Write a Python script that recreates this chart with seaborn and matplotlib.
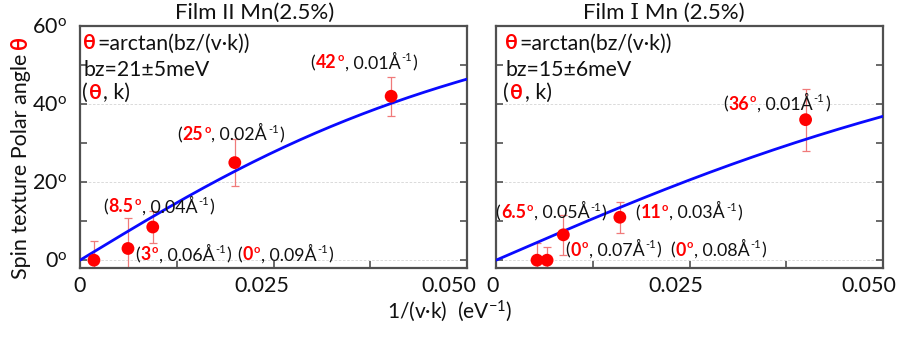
import numpy as np
import pandas as pd
import matplotlib
matplotlib.use("Agg")
import matplotlib.pyplot as plt
import matplotlib.transforms as mtransforms
from matplotlib.ticker import FixedLocator
import seaborn as sns

# ---------------- data ----------------
panel_titles = ["Film II Mn(2.5%)", "Film \u2160 Mn (2.5%)"]
bz_values = [21, 15]   # meV
bz_errors = [5, 6]

# Film II
film2_inv_vk = [0.0018, 0.0062, 0.0094, 0.0200, 0.0402]   # 1/(v·k), eV^-1
film2_theta = [0, 3, 8.5, 25, 42]                          # degrees
film2_theta_err = [5.0, 7.8, 4.0, 6.0, 5.0]
film2_k = ["0.09", "0.06", "0.04", "0.02", "0.01"]         # Å^-1

# Film I
film1_inv_vk = [0.0053, 0.0066, 0.0087, 0.0160, 0.0400]
film1_theta = [0, 0, 6.5, 11, 36]
film1_theta_err = [4.3, 3.3, 5.1, 4.0, 7.9]
film1_k = ["0.08", "0.07", "0.05", "0.03", "0.01"]

x_ticks = [0, 0.025, 0.050]
x_tick_labels = ["0", "0.025", "0.050"]
y_ticks = [0, 20, 40, 60]
y_minor_ticks = [10, 30, 50]

# where each (θ, k) annotation sits (data coords, text baseline)
film2_label_pos = [(0.0203, 0.0), (0.00712, 0.0), (0.00298, 12.3),
                   (0.01256, 30.8), (0.0298, 49.2)]
film1_label_pos = [(0.02248, 1.1), (0.00891, 1.1), (-0.0001, 10.8),
                   (0.01796, 10.8), (0.0293, 38.5)]

# ---------------- style ----------------
sns.set_theme(style="white")
plt.rcParams["font.family"] = ["Lato", "Open Sans", "DejaVu Sans"]
plt.rcParams["mathtext.fontset"] = "custom"
plt.rcParams["mathtext.rm"] = "Lato"
plt.rcParams["mathtext.it"] = "Lato:italic"
plt.rcParams["mathtext.bf"] = "Lato:bold"

RED = "#ff0000"
BLACK = "#111111"
SPINE = "#505050"

fig = plt.figure(figsize=(9, 3.37), dpi=100)
ax_left = fig.add_axes([80 / 900, 69 / 337, 387 / 900, 242 / 337])
ax_right = fig.add_axes([496 / 900, 69 / 337, 387 / 900, 242 / 337])


def rich_text(x, y, parts, size, transform, vertical=False, gap=1.3):
    """Draw a run of differently styled pieces one after another."""
    renderer = fig.canvas.get_renderer()
    pos = 0.0
    for text, color, weight, sup in parts:
        fs = size * 0.62 if sup else size
        lift = size * 0.42 * fig.dpi / 72 if sup else 0.0
        if vertical:
            off = mtransforms.offset_copy(transform, x=-lift, y=pos, units="dots")
        else:
            off = mtransforms.offset_copy(transform, x=pos, y=lift, units="dots")
        t = fig.text(x, y, text, transform=off, fontsize=fs, color=color,
                     fontweight=weight, ha="left", va="baseline",
                     rotation=90 if vertical else 0, rotation_mode="anchor")
        ext = t.get_window_extent(renderer)
        pos += (ext.height if vertical else ext.width) + gap


def point_label(theta, k):
    return [("(", BLACK, "normal", False),
            (f"{theta:g}", RED, "bold", False),
            ("o", RED, "bold", True),
            (f", {k}\u00c5", BLACK, "normal", False),
            ("-1", BLACK, "normal", True),
            (")", BLACK, "normal", False)]


def draw_panel(ax, inv_vk, theta, theta_err, k_vals, bz, bz_err,
               label_pos, text_x, show_ylabels, label_shifts):
    df = pd.DataFrame({"inv_vk": inv_vk, "theta": theta, "err": theta_err})

    # fitted curve θ = arctan(bz/(v·k))
    xs = np.linspace(0, 0.05, 200)
    fit = pd.DataFrame({"inv_vk": xs, "theta": np.degrees(np.arctan(bz * xs))})
    sns.lineplot(data=fit, x="inv_vk", y="theta", color="#0a0aff", lw=2.0,
                 ax=ax, zorder=3)

    ax.errorbar(df["inv_vk"], df["theta"], yerr=df["err"], fmt="none",
                ecolor="#f07a7a", elinewidth=0.9, capsize=3, capthick=0.9,
                zorder=2)
    sns.scatterplot(data=df, x="inv_vk", y="theta", color=RED, s=85,
                    edgecolor="none", ax=ax, zorder=4, legend=False)

    ax.set_xlim(0, 0.05)
    ax.set_ylim(-2, 60)
    ax.set_xlabel("")
    ax.set_ylabel("")

    ax.xaxis.set_major_locator(FixedLocator(x_ticks))
    ax.set_xticklabels(x_tick_labels)
    ax.xaxis.set_minor_locator(FixedLocator([0.0125, 0.0375]))
    ax.yaxis.set_major_locator(FixedLocator(y_ticks))
    ax.yaxis.set_minor_locator(FixedLocator(y_minor_ticks))
    if show_ylabels:
        ax.set_yticklabels([rf"{v}$^{{\mathrm{{o}}}}$" for v in y_ticks])
    else:
        ax.set_yticklabels([])

    ax.tick_params(axis="both", which="both", direction="in", colors=SPINE,
                   labelcolor=BLACK, width=1.2, labelsize=15.5)
    ax.tick_params(axis="both", which="major", length=5)
    ax.tick_params(axis="both", which="minor", length=5)
    ax.tick_params(axis="y", which="both", left=True, right=True)
    ax.tick_params(axis="x", which="both", bottom=True, top=False, pad=6)
    ax.tick_params(axis="y", which="major", pad=9)

    # nudge x tick labels sideways
    for tick, dx in zip(ax.xaxis.get_major_ticks(), label_shifts):
        tick.label1.set_transform(tick.label1.get_transform() +
                                  mtransforms.ScaledTranslation(dx / 100, 0,
                                                                fig.dpi_scale_trans))

    for sp in ax.spines.values():
        sp.set_color(SPINE)
        sp.set_linewidth(1.6)

    ax.yaxis.grid(True, which="major", color="#d4d4d4", lw=0.6, ls=(0, (3, 2)))
    ax.xaxis.grid(False)

    # formula block
    tr = ax.transAxes
    rich_text(text_x, 0.903, [("\u03b8", RED, "bold", False),
                              ("=arctan(bz/(v\u00b7k))", BLACK, "normal", False)],
              15.3, tr)
    rich_text(text_x + 0.002, 0.795,
              [(f"bz={bz}\u00b1{bz_err}meV", BLACK, "normal", False)], 15.3, tr)
    rich_text(text_x - 0.004, 0.697, [("(", BLACK, "normal", False),
                                      ("\u03b8", RED, "bold", False),
                                      (", k)", BLACK, "normal", False)],
              15.3, tr)

    # (θ, k) annotations next to each point
    for th, k, (lx, ly) in zip(theta, k_vals, label_pos):
        rich_text(lx, ly, point_label(th, k), 12.8, ax.transData, gap=0.8)


draw_panel(ax_left, film2_inv_vk, film2_theta, film2_theta_err,
           film2_k, bz_values[0], bz_errors[0], film2_label_pos, 0.008, True,
           [0, -12, -18])
draw_panel(ax_right, film1_inv_vk, film1_theta, film1_theta_err,
           film1_k, bz_values[1], bz_errors[1], film1_label_pos, 0.023, False,
           [-3, -14, -14])

# panel titles
fig.text(255 / 900, 1 - 13 / 337, panel_titles[0], ha="center", va="center",
         fontsize=16, color=BLACK)
fig.text(664 / 900, 1 - 13 / 337, panel_titles[1], ha="center", va="center",
         fontsize=16, color=BLACK, family=["Lato", "DejaVu Serif", "DejaVu Sans"])

# shared axis labels
fig.text(0.5, 1 - 311 / 337, "1/(v\u00b7k)  (eV$^{-1}$)", ha="center",
         va="center", fontsize=15, color=BLACK)
rich_text(27 / 900, 1 - 279 / 337, [("Spin texture Polar angle", BLACK, "normal", False),
                                     ("\u03b8", RED, "bold", False)],
          15.5, fig.transFigure, vertical=True, gap=5)

fig.savefig("out.png", dpi=100)
